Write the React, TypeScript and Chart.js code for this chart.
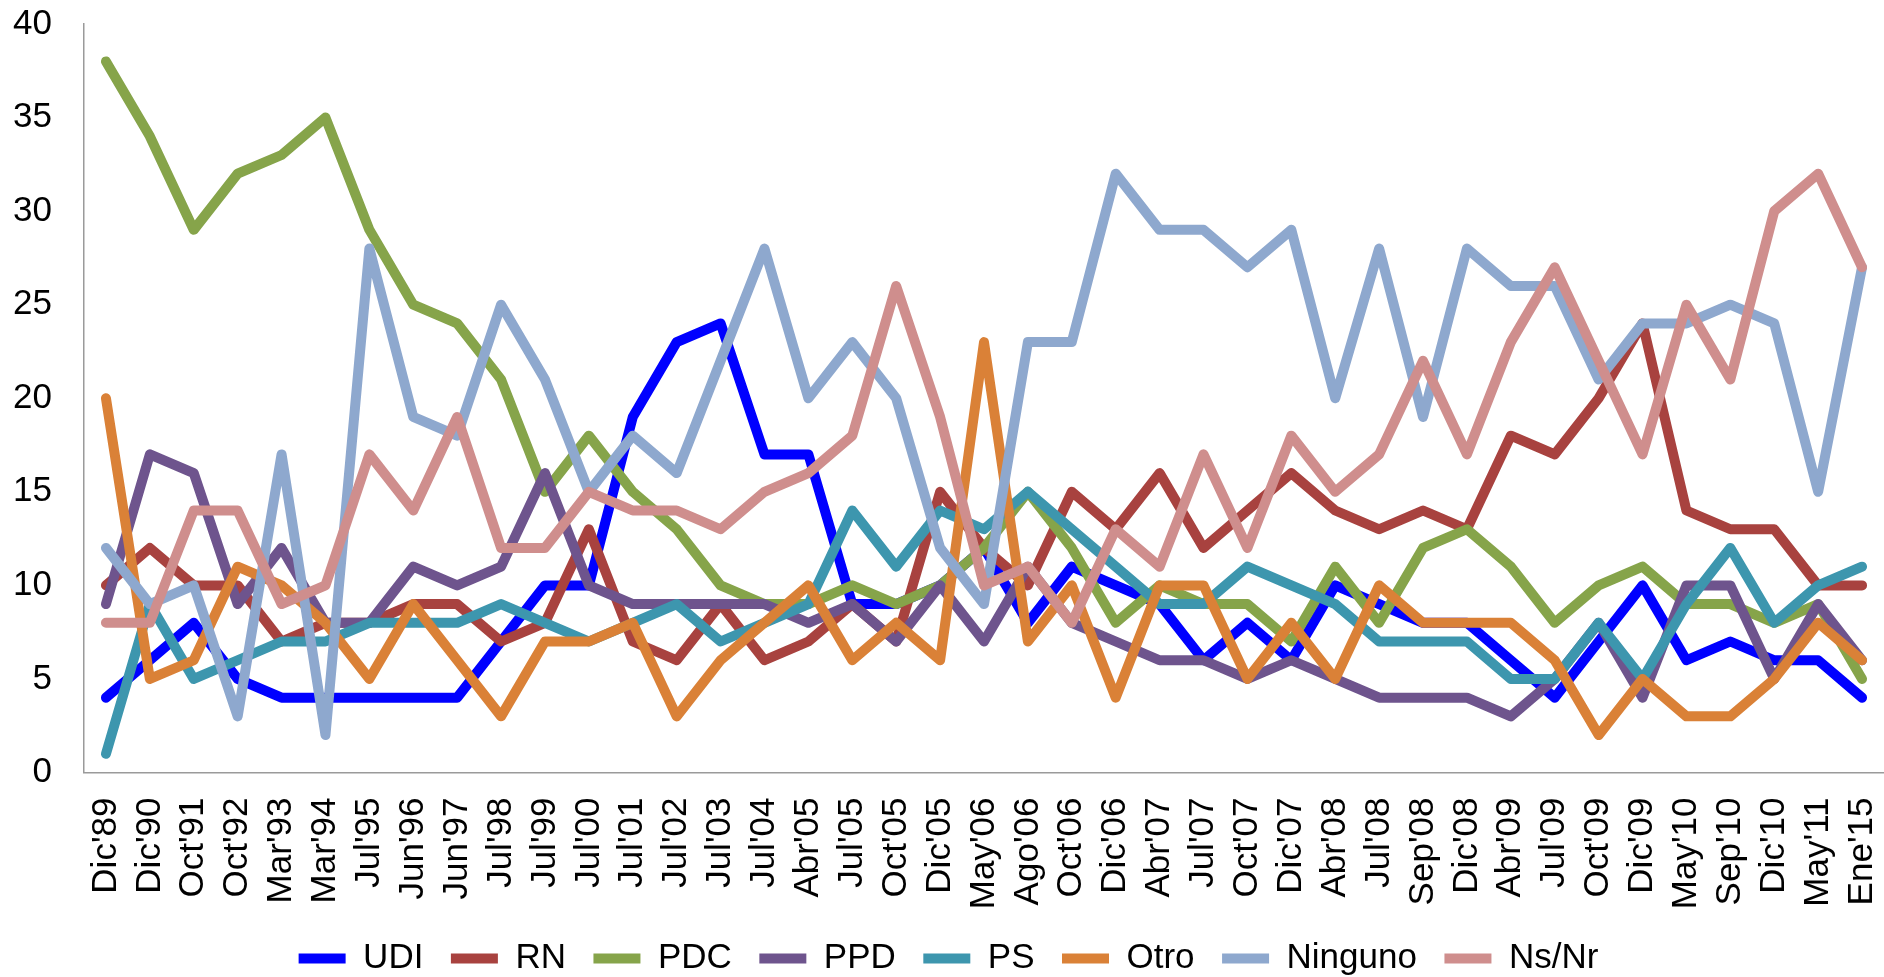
import React, { useEffect, useRef } from "react";
import { Chart, registerables } from "chart.js";

Chart.register(...registerables);

const labels = [
  "Dic'89", "Dic'90", "Oct'91", "Oct'92", "Mar'93", "Mar'94", "Jul'95", "Jun'96", "Jun'97", "Jul'98",
  "Jul'99", "Jul'00", "Jul'01", "Jul'02", "Jul'03", "Jul'04", "Abr'05", "Jul'05", "Oct'05", "Dic'05",
  "May'06", "Ago'06", "Oct'06", "Dic'06", "Abr'07", "Jul'07", "Oct'07", "Dic'07", "Abr'08", "Jul'08",
  "Sep'08", "Dic'08", "Abr'09", "Jul'09", "Oct'09", "Dic'09", "May'10", "Sep'10", "Dic'10", "May'11",
  "Ene'15",
];

const udi = [4, 6, 8, 5, 4, 4, 4, 4, 4, 7, 10, 10, 19, 23, 24, 17, 17, 9, 9, 10, 12, 8, 11, 10, 9, 6, 8, 6, 10, 9, 8, 8, 6, 4, 7, 10, 6, 7, 6, 6, 4];
const rn = [10, 12, 10, 10, 7, 8, 8, 9, 9, 7, 8, 13, 7, 6, 9, 6, 7, 9, 7, 15, 12, 10, 15, 13, 16, 12, 14, 16, 14, 13, 14, 13, 18, 17, 20, 24, 14, 13, 13, 10, 10];
const pdc = [38, 34, 29, 32, 33, 35, 29, 25, 24, 21, 15, 18, 15, 13, 10, 9, 9, 10, 9, 10, 12, 15, 12, 8, 10, 9, 9, 7, 11, 8, 12, 13, 11, 8, 10, 11, 9, 9, 8, 9, 5];
const ppd = [9, 17, 16, 9, 12, 8, 8, 11, 10, 11, 16, 10, 9, 9, 9, 9, 8, 9, 7, 10, 7, 11, 8, 7, 6, 6, 5, 6, 5, 4, 4, 4, 3, 5, 8, 4, 10, 10, 5, 9, 6];
const ps = [1, 9, 5, 6, 7, 7, 8, 8, 8, 9, 8, 7, 8, 9, 7, 8, 9, 14, 11, 14, 13, 15, 13, 11, 9, 9, 11, 10, 9, 7, 7, 7, 5, 5, 8, 5, 9, 12, 8, 10, 11];
const otro = [20, 5, 6, 11, 10, 8, 5, 9, 6, 3, 7, 7, 8, 3, 6, 8, 10, 6, 8, 6, 23, 7, 10, 4, 10, 10, 5, 8, 5, 10, 8, 8, 8, 6, 2, 5, 3, 3, 5, 8, 6];
const ninguno = [12, 9, 10, 3, 17, 2, 28, 19, 18, 25, 21, 15, 18, 16, 22, 28, 20, 23, 20, 12, 9, 23, 23, 32, 29, 29, 27, 29, 20, 28, 19, 28, 26, 26, 21, 24, 24, 25, 24, 15, 27];
const nsnr = [8, 8, 14, 14, 9, 10, 17, 14, 19, 12, 12, 15, 14, 14, 13, 15, 16, 18, 26, 19, 10, 11, 8, 13, 11, 17, 12, 18, 15, 17, 22, 17, 23, 27, 22, 17, 25, 21, 30, 32, 27];

const seriesNames = ["UDI", "RN", "PDC", "PPD", "PS", "Otro", "Ninguno", "Ns/Nr"];
const seriesColors = ["#0000FF", "#A8423F", "#86A44A", "#6E548D", "#3D96AE", "#DA8137", "#8EA8CE", "#CF8E8D"];
const yTicks = { min: 0, max: 40, step: 5 };

export default function App() {
  const ref = useRef<HTMLCanvasElement>(null);

  useEffect(() => {
    const font = "'Liberation Sans', Arial, sans-serif";
    const values = [udi, rn, pdc, ppd, ps, otro, ninguno, nsnr];
    const datasets = values.map((data, i) => ({
      label: seriesNames[i],
      data,
      borderColor: seriesColors[i],
      backgroundColor: seriesColors[i],
      borderWidth: 10,
      pointRadius: 0,
      pointHoverRadius: 0,
      tension: 0,
      borderCapStyle: "round" as const,
      borderJoinStyle: "round" as const,
      fill: false,
      order: values.length - i,
    }));

    const chart = new Chart(ref.current as HTMLCanvasElement, {
      type: "line",
      data: { labels, datasets },
      options: {
        animation: false,
        responsive: true,
        maintainAspectRatio: false,
        layout: { padding: { left: 13, top: 24, right: 0, bottom: 0 } },
        plugins: {
          tooltip: { enabled: false },
          legend: {
            position: "bottom",
            labels: {
              usePointStyle: true,
              pointStyle: "line",
              pointStyleWidth: 47,
              padding: 27.5,
              color: "#000",
              font: { family: font, size: 35 },
              sort: (a: any, b: any) => a.datasetIndex - b.datasetIndex,
            },
          },
        },
        scales: {
          x: {
            offset: true,
            grid: { display: false, drawTicks: false },
            border: { display: true, color: "#9a9a9a", width: 1.5 },
            ticks: {
              autoSkip: false,
              maxRotation: 90,
              minRotation: 90,
              padding: 25,
              color: "#000",
              font: { family: font, size: 35 },
            },
            afterFit: (s: any) => {
              s.height = 141;
              s.paddingLeft = 0;
              s.paddingRight = 0;
            },
          },
          y: {
            min: yTicks.min,
            max: yTicks.max,
            grid: { display: false, drawTicks: false },
            border: { display: true, color: "#9a9a9a", width: 1.5 },
            ticks: {
              stepSize: yTicks.step,
              padding: 32,
              color: "#000",
              font: { family: font, size: 35 },
            },
            afterFit: (s: any) => {
              s.width = 71;
              s.paddingTop = 0;
              s.paddingBottom = 0;
            },
          },
        },
      },
    });
    return () => chart.destroy();
  }, []);

  return (
    <div style={{ position: "fixed", left: 0, top: 0, width: 1884, height: 986, background: "#fff" }}>
      <canvas ref={ref} />
    </div>
  );
}
